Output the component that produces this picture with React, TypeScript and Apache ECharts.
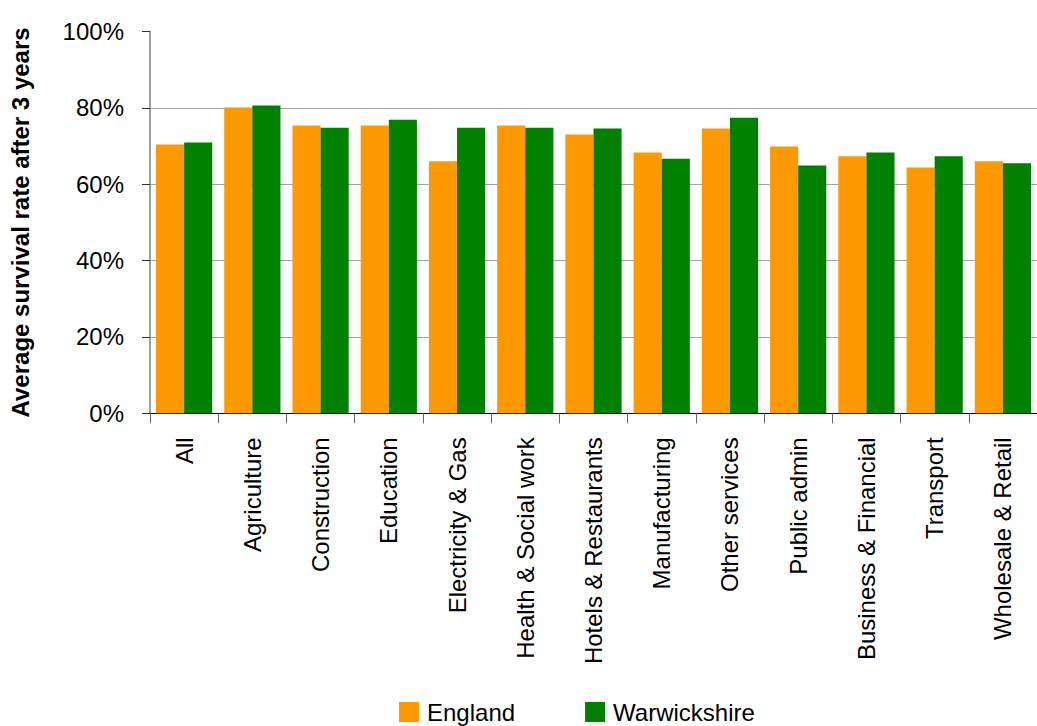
import React, { useEffect, useRef } from "react";
import * as echarts from "echarts";

const categories = [
  "All",
  "Agriculture",
  "Construction",
  "Education",
  "Electricity & Gas",
  "Health & Social work",
  "Hotels & Restaurants",
  "Manufacturing",
  "Other services",
  "Public admin",
  "Business & Financial",
  "Transport",
  "Wholesale & Retail",
];

const england = [70.4, 80.1, 75.4, 75.4, 66.0, 75.4, 73.0, 68.3, 74.6, 69.9, 67.3, 64.4, 66.0];
const warwickshire = [70.9, 80.6, 74.8, 76.9, 74.8, 74.8, 74.6, 66.7, 77.4, 64.9, 68.3, 67.3, 65.5];

const yTicks = [0, 20, 40, 60, 80, 100];

const FONT = "'Liberation Sans', Arial, sans-serif";

export default function App() {
  const ref = useRef<HTMLDivElement>(null);

  useEffect(() => {
    if (!ref.current) return;
    const chart = echarts.init(ref.current, null, { renderer: "svg" });
    chart.setOption({
      animation: false,
      backgroundColor: "#ffffff",
      textStyle: { fontFamily: FONT },
      grid: { left: 149, top: 31.5, right: -11.5, bottom: 312.7, containLabel: false },
      legend: {
        left: 399,
        top: 700,
        padding: 0,
        itemWidth: 20,
        itemHeight: 20,
        itemGap: 70,
        icon: "rect",
        textStyle: { fontSize: 24, color: "#000", fontFamily: FONT, padding: [0, 0, 0, 3] },
        data: ["England", "Warwickshire"],
      },
      xAxis: {
        type: "category",
        data: categories,
        axisLine: { lineStyle: { color: "#000", width: 1 } },
        axisTick: { show: true, length: 10, lineStyle: { color: "#666" } },
        axisLabel: {
          rotate: 90,
          margin: 24,
          interval: 0,
          fontSize: 24,
          color: "#000",
          fontFamily: FONT,
        },
      },
      yAxis: {
        type: "value",
        min: yTicks[0],
        max: yTicks[yTicks.length - 1],
        interval: 20,
        name: "Average survival rate after 3 years",
        nameLocation: "middle",
        nameGap: 118,
        nameTextStyle: { fontSize: 24, fontWeight: "bold", color: "#000", fontFamily: FONT },
        axisLine: { show: true, lineStyle: { color: "#808080", width: 1.5 } },
        axisTick: { show: true, length: 8, lineStyle: { color: "#333" } },
        axisLabel: {
          formatter: "{value}%",
          margin: 26,
          fontSize: 24,
          color: "#000",
          fontFamily: FONT,
        },
        splitLine: { show: true, showMaxLine: false, lineStyle: { color: "#A3A3A3", width: 1 } },
      },
      series: [
        {
          name: "England",
          type: "bar",
          data: england,
          itemStyle: { color: "#FF9900" },
          barGap: "0%",
          barCategoryGap: "17.6%",
        },
        {
          name: "Warwickshire",
          type: "bar",
          data: warwickshire,
          itemStyle: { color: "#008000" },
          barGap: "0%",
          barCategoryGap: "17.6%",
        },
      ],
    });
    return () => chart.dispose();
  }, []);

  return (
    <div
      ref={ref}
      style={{ position: "absolute", left: 0, top: 0, width: 1037, height: 726 }}
    />
  );
}
